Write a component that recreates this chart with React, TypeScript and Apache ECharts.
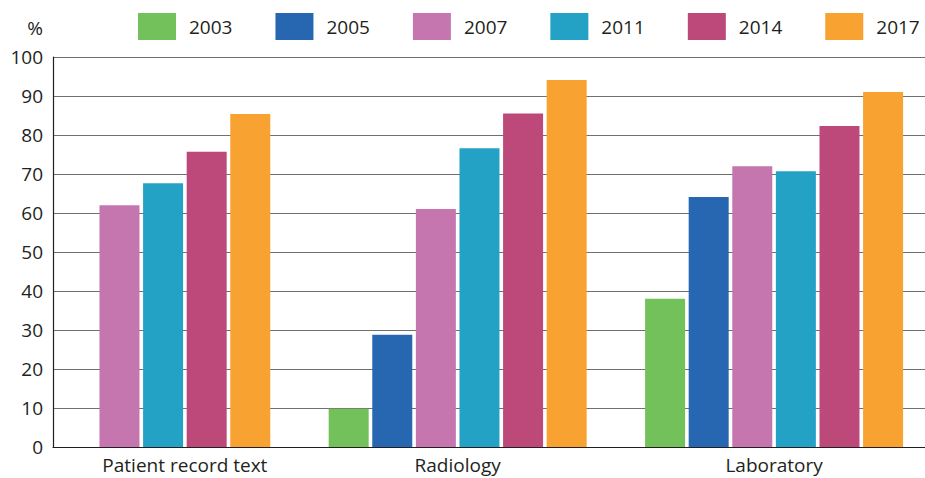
import React, { useEffect, useRef } from "react";
import * as echarts from "echarts";

const categories = ["Patient record text", "Radiology", "Laboratory"];
const years = ["2003", "2005", "2007", "2011", "2014", "2017"];
const v2003: (number | null)[] = [null, 9.8, 38];
const v2005: (number | null)[] = [null, 28.8, 64.1];
const v2007: (number | null)[] = [62, 61, 72];
const v2011: (number | null)[] = [67.6, 76.6, 70.7];
const v2014: (number | null)[] = [75.7, 85.5, 82.3];
const v2017: (number | null)[] = [85.4, 94.1, 91];
const seriesValues = [v2003, v2005, v2007, v2011, v2014, v2017];
const colors = ["#73c15b", "#2767b1", "#c676ae", "#24a2c5", "#bd497b", "#f8a231"];

const FONT = "'Open Sans', 'Noto Sans', sans-serif";
const TEXT = "#231f20";
const W = 925;
const H = 478;
const GRID_LEFT = 53;
const GRID_RIGHT = 0;
const X_MIN = -0.279;
const X_MAX = 2.477;
const BAR_W = 40;
const BAR_GAP_PX = 3.6;

export default function App() {
  const ref = useRef<HTMLDivElement>(null);
  useEffect(() => {
    if (!ref.current) return;
    const chart = echarts.init(ref.current, undefined, { renderer: "svg" });
    const gridW = W - GRID_LEFT - GRID_RIGHT;
    const bandPx = gridW / (X_MAX - X_MIN);
    const stepUnits = (BAR_W + BAR_GAP_PX) / bandPx;
    const n = seriesValues.length;
    const labelPos = categories.map((_, c) => {
      const idx = seriesValues
        .map((s, i) => (s[c] == null ? -1 : i))
        .filter((i) => i >= 0);
      const mean = idx.reduce((a, b) => a + b, 0) / idx.length;
      return c + (mean - (n - 1) / 2) * stepUnits;
    });

    chart.setOption({
      animation: false,
      color: colors,
      legend: {
        top: 13,
        left: 138,
        width: 840,
        padding: 0,
        itemWidth: 38,
        itemHeight: 27,
        itemGap: 43,
        icon: "rect",
        data: years,
        textStyle: {
          fontSize: 19,
          fontFamily: FONT,
          color: TEXT,
          padding: [0, 0, 0, 8],
        },
      },
      grid: {
        left: GRID_LEFT,
        right: GRID_RIGHT,
        top: 57,
        bottom: 31,
        containLabel: false,
        outerBoundsMode: "none",
      },
      xAxis: {
        type: "value",
        min: X_MIN,
        max: X_MAX,
        axisLine: { show: true, onZero: true, lineStyle: { color: TEXT, width: 1.2 } },
        axisTick: { show: false },
        splitLine: { show: false },
        axisLabel: {
          customValues: labelPos,
          formatter: (v: number) => categories[Math.round(v)] ?? "",
          fontSize: 19,
          fontFamily: FONT,
          color: TEXT,
          margin: 8,
        },
      },
      yAxis: {
        type: "value",
        min: 0,
        max: 100,
        interval: 10,
        name: "%",
        nameLocation: "end",
        nameGap: 29,
        nameTextStyle: {
          fontSize: 19,
          fontFamily: FONT,
          color: TEXT,
          align: "right",
          verticalAlign: "middle",
          padding: [0, 10, 0, 0],
        },
        axisLine: { show: true, onZero: false, lineStyle: { color: TEXT, width: 1.2 } },
        axisTick: { show: false },
        axisLabel: { fontSize: 19, fontFamily: FONT, color: TEXT, margin: 10 },
        splitLine: { show: true, lineStyle: { color: "#707070", width: 1 } },
      },
      series: years.map((y, i) => ({
        name: y,
        type: "bar",
        barWidth: BAR_W,
        barGap: (BAR_GAP_PX / BAR_W) * 100 + "%",
        data: seriesValues[i].map((v, c) => [c, v == null ? "-" : v]),
        itemStyle: { color: colors[i] },
      })),
    });
    return () => chart.dispose();
  }, []);
  return (
    <div
      ref={ref}
      style={{ position: "absolute", left: 0, top: 0, width: W, height: H, background: "#fff" }}
    />
  );
}
